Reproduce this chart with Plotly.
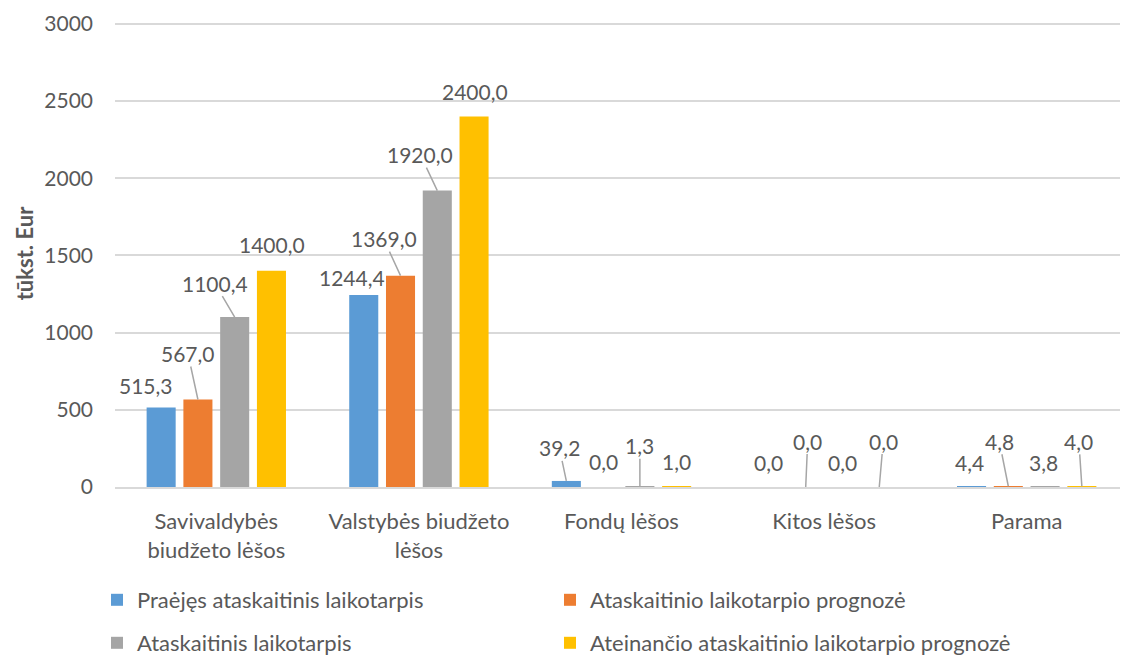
import plotly.graph_objects as go

categories = ["Savivaldybės<br>biudžeto lėšos", "Valstybės biudžeto<br>lėšos", "Fondų lėšos", "Kitos lėšos", "Parama"]
series_names = ["Praėjęs ataskaitinis laikotarpis", "Ataskaitinio laikotarpio prognozė",
                "Ataskaitinis laikotarpis", "Ateinančio ataskaitinio laikotarpio prognozė"]
praejes = [515.3, 1244.4, 39.2, 0.0, 4.4]
prognoze = [567.0, 1369.0, 0.0, 0.0, 4.8]
ataskaitinis = [1100.4, 1920.0, 1.3, 0.0, 3.8]
ateinancio = [1400.0, 2400.0, 1.0, 0.0, 4.0]
series_values = [praejes, prognoze, ataskaitinis, ateinancio]
y_ticks = [0, 500, 1000, 1500, 2000, 2500, 3000]

# styling
colors = ["#5B9BD5", "#ED7D31", "#A5A5A5", "#FFC000"]
FONT = "Lato"
TXT = "#595959"
FS = 21      # numbers
FS_T = 22    # words
W, H = 1120, 648   # page body adds an 8px margin
BARGAP = 0.274
GROUPGAP = 0.21
# label offsets in pixels (dx, dy, leader line)
label_style = [
    [(-15, -22, False), (-12, -17, False), (-7, -33, True), (0, -25, False), (-2, -24, False)],
    [(-10, -46, True), (-17, -37, True), (0, -26, False), (2, -46, True), (-9, -45, True)],
    [(-20, -34, True), (-17, -36, True), (0, -41, True), (0, -25, False), (-2, -24, False)],
    [(1, -26, False), (1, -25, False), (0, -25, False), (4, -46, True), (-3, -45, True)],
]
# legend entry placement (container px): (left, middle y)
legend_pos = [(89, 592), (542, 592), (89, 635), (542, 635)]
legend_ids = ["legend", "legend2", "legend3", "legend4"]

fig = go.Figure()
for i, (name, vals) in enumerate(zip(series_names, series_values)):
    fig.add_trace(go.Bar(x=categories, y=vals, name=name, marker_color=colors[i],
                         marker_line_width=0, legend=legend_ids[i]))

slot = (1 - BARGAP) / len(series_values)
annotations = []
for i, vals in enumerate(series_values):
    for j, v in enumerate(vals):
        dx, dy, leader = label_style[i][j]
        annotations.append(dict(
            x=j + (i - (len(series_values) - 1) / 2) * slot, y=v, xref="x", yref="y",
            text=f"{v:.1f}".replace(".", ","), showarrow=True, ax=dx, ay=dy,
            arrowhead=0, arrowwidth=1.5, standoff=0, startstandoff=0,
            arrowcolor="#A6A6A6" if leader else "rgba(0,0,0,0)",
            font=dict(family=FONT, size=FS, color=TXT), borderpad=0))

legend_layouts = {}
for lid, (lx, ly) in zip(legend_ids, legend_pos):
    legend_layouts[lid] = dict(orientation="h", xref="container", yref="container",
                               x=lx / W, y=1 - ly / H, xanchor="left", yanchor="middle",
                               font=dict(family=FONT, size=FS_T, color=TXT),
                               bgcolor="rgba(0,0,0,0)")

fig.update_layout(
    width=W, height=H,
    margin=dict(l=107, r=0, t=12, b=169, autoexpand=False),
    paper_bgcolor="white", plot_bgcolor="white",
    barmode="group", bargap=BARGAP, bargroupgap=GROUPGAP,
    font=dict(family=FONT, size=FS, color=TXT),
    annotations=annotations,
    showlegend=True,
    **legend_layouts,
)
fig.update_yaxes(range=[0, 3025], tickvals=y_ticks, ticktext=[str(t) for t in y_ticks],
                 showgrid=True, gridcolor="#D9D9D9", gridwidth=1.5, zeroline=False,
                 showline=False, ticklabelstandoff=21, automargin=False,
                 tickfont=dict(family=FONT, size=FS, color=TXT),
                 title=dict(text="tūkst. Eur", standoff=4,
                            font=dict(family=FONT, size=FS_T, color=TXT, weight="bold")))
fig.update_xaxes(showline=True, linecolor="#D9D9D9", linewidth=1.5, showgrid=False,
                 ticks="", ticklabelstandoff=14, automargin=False,
                 tickfont=dict(family=FONT, size=FS_T, color=TXT))

fig.write_html("out.html")
